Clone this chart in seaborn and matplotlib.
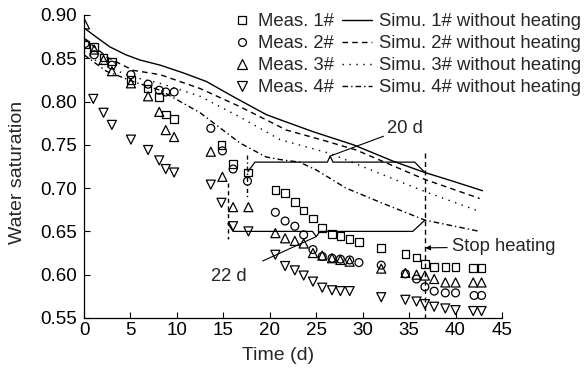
import numpy as np
import pandas as pd
import matplotlib
matplotlib.use('Agg')
import matplotlib.pyplot as plt
import seaborn as sns
from matplotlib.lines import Line2D

sns.set_style('ticks')
plt.rcParams['font.family'] = ['Liberation Sans', 'DejaVu Sans']

# ---------- measured data ----------
days_1 = [0.1, 1.1, 2.1, 3.0, 5.05, 6.85, 8.1, 8.8, 9.7, 14.8, 16.05, 17.65,
          20.6, 21.65, 22.7, 23.65, 24.65, 25.65, 26.7, 27.6, 28.6, 29.6,
          32.0, 34.6, 35.8, 36.7, 37.7, 38.9, 40.0, 41.9, 42.8]
meas_1 = [0.866, 0.863, 0.851, 0.846, 0.825, 0.815, 0.805, 0.785, 0.780, 0.750, 0.728, 0.718,
          0.698, 0.694, 0.684, 0.674, 0.665, 0.654, 0.647, 0.645, 0.641, 0.638,
          0.631, 0.624, 0.620, 0.612, 0.609, 0.609, 0.609, 0.608, 0.608]

days_2 = [0.1, 1.1, 3.0, 5.05, 6.9, 8.1, 8.8, 9.7, 13.65, 14.9, 16.05, 17.6,
          20.6, 21.65, 22.7, 23.65, 24.65, 25.65, 26.7, 27.6, 28.6, 29.6,
          32.0, 34.6, 35.8, 36.7, 37.7, 38.9, 40.0, 42.0, 42.8]
meas_2 = [0.867, 0.854, 0.842, 0.831, 0.820, 0.813, 0.811, 0.811, 0.769, 0.743, 0.722, 0.708,
          0.672, 0.662, 0.656, 0.646, 0.629, 0.621, 0.619, 0.618, 0.617, 0.614,
          0.611, 0.601, 0.595, 0.586, 0.581, 0.579, 0.579, 0.576, 0.576]

days_3 = [0.1, 1.1, 2.1, 3.0, 5.05, 6.9, 8.1, 8.8, 9.7, 13.65, 14.9, 16.05, 17.7,
          20.6, 21.65, 22.7, 23.65, 24.65, 25.65, 26.7, 27.6, 28.6,
          32.0, 34.6, 35.8, 36.7, 37.7, 38.9, 40.0, 41.9, 42.8]
meas_3 = [0.889, 0.860, 0.848, 0.835, 0.821, 0.806, 0.788, 0.767, 0.759, 0.742, 0.713, 0.678, 0.678,
          0.648, 0.642, 0.639, 0.636, 0.625, 0.622, 0.619, 0.617, 0.615,
          0.607, 0.602, 0.600, 0.599, 0.595, 0.591, 0.591, 0.591, 0.591]

days_4 = [1.0, 2.1, 3.0, 5.05, 6.9, 8.1, 8.8, 9.7, 13.65, 14.8, 16.05, 17.7,
          20.6, 21.65, 22.7, 23.65, 24.65, 25.65, 26.7, 27.6, 28.6,
          32.0, 34.6, 35.8, 36.7, 37.7, 38.9, 40.0, 41.9, 42.8]
meas_4 = [0.803, 0.787, 0.773, 0.756, 0.744, 0.732, 0.722, 0.718, 0.704, 0.683, 0.656, 0.650,
          0.623, 0.610, 0.605, 0.599, 0.592, 0.585, 0.582, 0.581, 0.581,
          0.574, 0.571, 0.569, 0.566, 0.563, 0.561, 0.559, 0.558, 0.558]

# ---------- simulated curves (without heating) ----------
sim_days_1 = [0, 1.5, 2.8, 4.5, 6.0, 8.2, 10.7, 13.2, 16.0, 19.6, 21.1, 24.7, 29.0, 33.3, 36.7, 39.7, 42.9]
simu_1 = [0.885, 0.873, 0.863, 0.854, 0.848, 0.842, 0.833, 0.823, 0.806, 0.785, 0.779, 0.765, 0.750, 0.731, 0.718, 0.708, 0.697]

sim_days_2 = [0, 2.5, 5.3, 8.2, 12.5, 16.8, 21.8, 25.5, 29.3, 33.0, 36.7, 42.6]
simu_2 = [0.873, 0.851, 0.836, 0.831, 0.815, 0.794, 0.767, 0.756, 0.744, 0.727, 0.710, 0.688]

sim_days_3 = [0, 1.7, 5.0, 8.2, 12.5, 16.8, 21.1, 26.5, 31.8, 36.7, 42.6]
simu_3 = [0.858, 0.844, 0.829, 0.821, 0.806, 0.782, 0.756, 0.740, 0.717, 0.696, 0.673]

sim_days_4 = [0, 2.4, 5.3, 8.2, 12.5, 16.8, 19.6, 21.1, 23.2, 25.0, 28.2, 31.8, 36.7, 42.6]
simu_4 = [0.854, 0.835, 0.823, 0.813, 0.787, 0.752, 0.736, 0.733, 0.730, 0.721, 0.700, 0.684, 0.663, 0.650]

meas_labels = ['Meas. 1#', 'Meas. 2#', 'Meas. 3#', 'Meas. 4#']
simu_labels = ['Simu. 1# without heating', 'Simu. 2# without heating',
               'Simu. 3# without heating', 'Simu. 4# without heating']

# annotation geometry
brace_20d_x = [17.65, 18.4, 26.2, 26.5, 26.8, 35.6, 36.7]
brace_20d_y = [0.719, 0.730, 0.730, 0.737, 0.730, 0.730, 0.718]
brace_22d_x = [15.5, 16.05, 24.6, 25.0, 25.4, 35.4, 36.7]
brace_22d_y = [0.659, 0.650, 0.650, 0.644, 0.650, 0.650, 0.663]

markers = ['s', 'o', '^', 'v']
msizes = [30, 32, 42, 42]
dash_styles = ['-', (0, (4, 3)), (0, (1, 4)), (0, (4, 2.2, 1, 2.2))]

fig = plt.figure(figsize=(5.85, 3.73), dpi=100)
ax = fig.add_axes([0.1436, 0.1475, 0.7145, 0.8125])

meas = [(days_1, meas_1), (days_2, meas_2), (days_3, meas_3), (days_4, meas_4)]
for (d, v), m, s in zip(meas, markers, msizes):
    df = pd.DataFrame({'day': d, 'sw': v})
    sns.scatterplot(data=df, x='day', y='sw', marker=m, s=s, facecolor='none',
                    edgecolor='black', linewidth=0.9, ax=ax, legend=False, zorder=3)

sims = [(sim_days_1, simu_1), (sim_days_2, simu_2), (sim_days_3, simu_3), (sim_days_4, simu_4)]
for (d, v), ls in zip(sims, dash_styles):
    df = pd.DataFrame({'day': d, 'sw': v})
    sns.lineplot(data=df, x='day', y='sw', color='black', linewidth=1.0,
                 linestyle=ls, ax=ax, legend=False)

# heating markers
ax.plot([15.5, 15.5], [0.706, 0.641], color='black', lw=1.0, ls=(0, (3, 2.5)))
ax.plot([17.6, 17.6], [0.738, 0.687], color='black', lw=1.0, ls=(0, (3, 2, 1, 2)))
ax.plot([36.7, 36.7], [0.740, 0.55], color='black', lw=1.0, ls=(0, (3.6, 2.5)))

ax.plot(brace_20d_x, brace_20d_y, color='black', lw=0.9)
ax.plot(brace_22d_x, brace_22d_y, color='black', lw=0.9)
ax.annotate('20 d', xy=(26.5, 0.737), xytext=(32.6, 0.769), fontsize=13.3,
            va='center', ha='left',
            arrowprops=dict(arrowstyle='-', color='black', lw=0.8, shrinkA=0, shrinkB=0))
ax.annotate('22 d', xy=(25.0, 0.644), xytext=(15.6, 0.598), fontsize=13.3,
            va='center', ha='center',
            arrowprops=dict(arrowstyle='-', color='black', lw=0.8, shrinkA=10, shrinkB=0))
ax.annotate('Stop heating', xy=(36.75, 0.631), xytext=(39.6, 0.632), fontsize=13.3,
            va='center', ha='left',
            arrowprops=dict(arrowstyle='-|>', color='black', lw=0.8, mutation_scale=7,
                            shrinkA=1, shrinkB=0))

ax.set_xlim(0, 45)
ax.set_ylim(0.55, 0.90)
ax.set_xticks(np.arange(0, 46, 5))
ax.set_yticks(np.arange(0.55, 0.901, 0.05))
ax.yaxis.set_major_formatter(matplotlib.ticker.FormatStrFormatter('%.2f'))
ax.tick_params(direction='in', length=4, width=0.8, labelsize=13.5, colors='black')
ax.tick_params(axis='x', pad=3)
ax.tick_params(axis='y', pad=5)
for sp in ['left', 'bottom']:
    ax.spines[sp].set_linewidth(0.9)
    ax.spines[sp].set_color('black')
sns.despine(ax=ax)
ax.set_xlabel('Time (d)', fontsize=14)
ax.set_ylabel('Water saturation', fontsize=14)
ax.xaxis.set_label_coords(0.465, -0.095)
ax.yaxis.set_label_coords(-0.138, 0.48)

# legends
h1 = [Line2D([], [], ls='none', marker=m, mfc='none', mec='black', mew=0.9, ms=np.sqrt(s))
      for m, s in zip(markers, msizes)]
fig.legend(h1, meas_labels, loc='upper left', bbox_to_anchor=(0.405, 0.964),
           frameon=False, fontsize=13.3, handlelength=0.6, handletextpad=0.55,
           labelspacing=0.27, borderpad=0, borderaxespad=0)
h2 = [Line2D([], [], color='black', lw=1.0, ls=ls) for ls in dash_styles]
fig.legend(h2, simu_labels, loc='upper left', bbox_to_anchor=(0.585, 0.964),
           frameon=False, fontsize=13.3, handlelength=1.6, handletextpad=0.4,
           labelspacing=0.27, borderpad=0, borderaxespad=0)

fig.savefig('out.png', dpi=100)
